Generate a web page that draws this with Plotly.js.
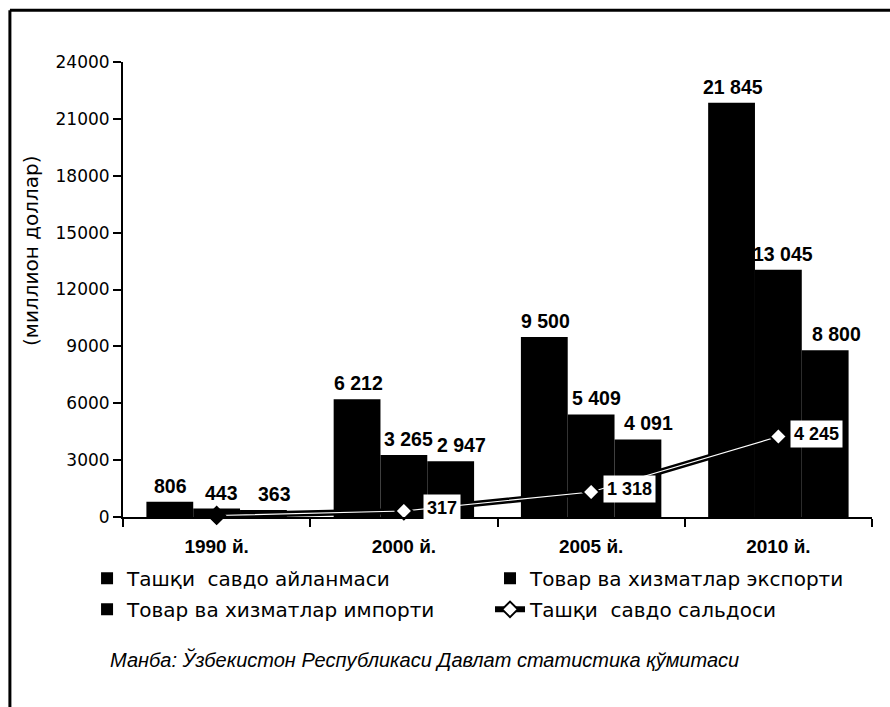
<!DOCTYPE html>
<html>
<head>
<meta charset="utf-8">
<script src="https://cdn.plot.ly/plotly-3.0.1.min.js"></script>
<style>html,body{margin:0;padding:0;background:#fff;}#chart{width:890px;height:707px;}</style>
</head>
<body>
<div id="chart"></div>
<script>
const categories = ['1990 й.', '2000 й.', '2005 й.', '2010 й.'];
const seriesNames = ['Ташқи  савдо айланмаси', 'Товар ва хизматлар экспорти', 'Товар ва хизматлар импорти', 'Ташқи  савдо сальдоси'];
const turnover = [806, 6212, 9500, 21845];
const exportVals = [443, 3265, 5409, 13045];
const importVals = [363, 2947, 4091, 8800];
const balance = [80, 317, 1318, 4245];
const balanceLabels = ['', '317', '1 318', '4 245'];
const yTicks = [0, 3000, 6000, 9000, 12000, 15000, 18000, 21000, 24000];

const fmt = v => String(v).replace(/\B(?=(\d{3})+(?!\d))/g, ' ');
const FONT = 'Liberation Sans, Arial, sans-serif';
const WIDE = 'DejaVu Sans, Liberation Sans, sans-serif';
const BARGAP = 0.25;

function barTrace(name, vals, legend, group) {
  return {
    type: 'bar', name: name, x: categories, y: vals,
    legend: legend, legendgroup: group,
    marker: {color: '#000', line: {width: 0}},
    hoverinfo: 'none'
  };
}

const barSeries = [turnover, exportVals, importVals];

const data = [
  barTrace(seriesNames[0], turnover, 'legend', 'g1'),
  barTrace(seriesNames[1], exportVals, 'legend2', 'g2'),
  barTrace(seriesNames[2], importVals, 'legend', 'g3'),
  {
    type: 'scatter', mode: 'lines+markers', name: seriesNames[3],
    legend: 'legend2', legendgroup: 'g4',
    x: categories, y: balance,
    line: {color: '#000', width: 6},
    marker: {symbol: 'diamond', size: 12, color: '#fff', line: {color: '#000', width: 2}},
    cliponaxis: false, hoverinfo: 'none'
  },
  {
    type: 'scatter', mode: 'lines', showlegend: false,
    x: categories, y: balance,
    line: {color: '#fff', width: 1.2},
    cliponaxis: false, hoverinfo: 'none'
  },
  {
    type: 'scatter', mode: 'markers', showlegend: false,
    x: categories, y: balance,
    marker: {symbol: 'diamond', size: 13, color: ['#000', '#fff', '#fff', '#fff'], line: {color: '#000', width: 2}},
    cliponaxis: false, hoverinfo: 'none'
  }
];

const annotations = [];
// bar value labels, placed over each bar of the group (category index + bar offset)
const slot = (1 - BARGAP) / barSeries.length;
const labelNudge = [1, 5, 11];
barSeries.forEach((vals, s) => {
  vals.forEach((v, j) => {
    annotations.push({
      x: j + (s - (barSeries.length - 1) / 2) * slot, y: v, xref: 'x', yref: 'y',
      xanchor: 'center', yanchor: 'bottom', xshift: labelNudge[s], yshift: 3,
      text: '<b>' + fmt(v) + '</b>', showarrow: false,
      font: {family: FONT, size: 19.5, color: '#000'}
    });
  });
});
categories.forEach((c, i) => {
  if (balanceLabels[i]) {
    annotations.push({
      x: c, y: balance[i], xref: 'x', yref: 'y',
      text: '<b>' + balanceLabels[i] + '</b>', showarrow: false,
      xshift: 38, yshift: 3,
      bgcolor: '#fff', borderpad: 3,
      font: {family: FONT, size: 18, color: '#000'}
    });
  }
});
annotations.push({
  xref: 'paper', yref: 'paper', x: -0.02, y: -0.314, xanchor: 'left', yanchor: 'middle',
  text: '<i>Манба: Ўзбекистон Республикаси Давлат статистика қўмитаси</i>',
  showarrow: false, font: {family: FONT, size: 20, color: '#000'}
});
annotations.push({
  xref: 'paper', yref: 'paper', x: -0.122, y: 0.586, xanchor: 'center', yanchor: 'middle',
  text: '(миллион доллар)', textangle: -90, showarrow: false,
  font: {family: WIDE, size: 20, color: '#000'}
});

const legendCommon = {
  orientation: 'v', yanchor: 'top', xanchor: 'left', y: -0.092,
  tracegroupgap: 2, traceorder: 'grouped',
  bgcolor: 'rgba(0,0,0,0)',
  font: {family: WIDE, size: 20, color: '#000'}
};

const layout = {
  width: 890, height: 707,
  margin: {l: 123, r: 18, t: 62, b: 190},
  paper_bgcolor: '#fff', plot_bgcolor: '#fff',
  font: {family: FONT, color: '#000'},
  barmode: 'group', bargap: BARGAP, bargroupgap: 0,
  showlegend: true,
  legend: Object.assign({}, legendCommon, {x: -0.048}),
  legend2: Object.assign({}, legendCommon, {x: 0.490}),
  xaxis: {
    type: 'category', showgrid: false, zeroline: false,
    showline: true, linecolor: '#000', linewidth: 2,
    ticks: 'outside', tickson: 'boundaries', ticklen: 8, tickwidth: 2, tickcolor: '#000',
    ticklabelstandoff: 11,
    tickfont: {family: FONT, size: 19, color: '#000', weight: 'bold'}
  },
  yaxis: {
    range: [0, 24000], tickvals: yTicks, ticktext: yTicks.map(String),
    showgrid: false, zeroline: false,
    showline: true, linecolor: '#000', linewidth: 2,
    ticks: 'outside', ticklen: 8, tickwidth: 2, tickcolor: '#000',
    tickfont: {family: WIDE, size: 17, color: '#000'}
  },
  annotations: annotations,
  shapes: [
    {type: 'line', xref: 'paper', yref: 'paper', x0: -0.151, x1: 1.05, y0: 1.114, y1: 1.114, line: {color: '#000', width: 3}},
    {type: 'line', xref: 'paper', yref: 'paper', x0: -0.151, x1: -0.151, y0: 1.114, y1: -0.45, line: {color: '#000', width: 3}}
  ]
};

Plotly.newPlot('chart', data, layout, {displayModeBar: false, staticPlot: true});
</script>
</body>
</html>
